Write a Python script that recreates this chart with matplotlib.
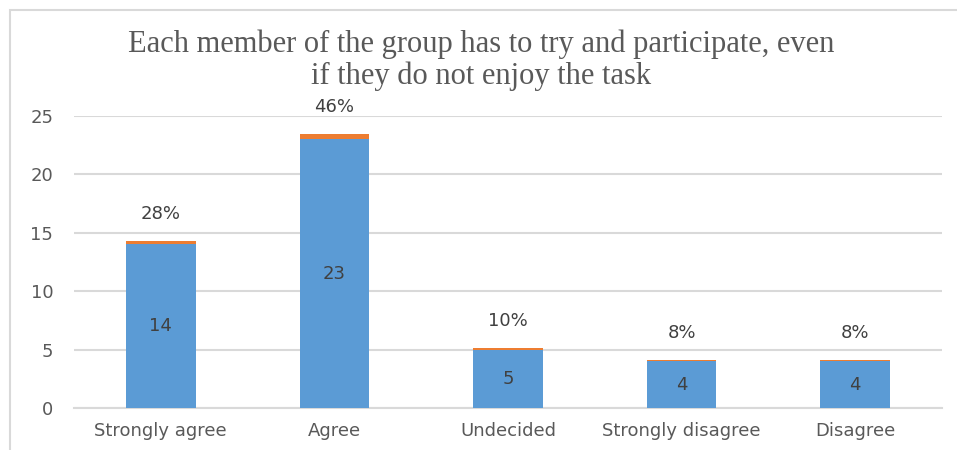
import matplotlib.pyplot as plt
from matplotlib.patches import Rectangle

# Survey answers
categories = ["Strongly agree", "Agree", "Undecided", "Strongly disagree", "Disagree"]
counts = [14, 23, 5, 4, 4]
shares = [0.28, 0.46, 0.10, 0.08, 0.08]
share_labels = ["28%", "46%", "10%", "8%", "8%"]

title = "Each member of the group has to try and participate, even\nif they do not enjoy the task"

blue = "#5b9bd5"
orange = "#ed7d31"
grey_text = "#595959"
grid_col = "#d9d9d9"

fig = plt.figure(figsize=(9.57, 4.5), dpi=100)
ax = fig.add_axes([74 / 957, 1 - 408 / 450, (942 - 74) / 957, (408 - 116) / 450])

# outer chart border
fig.patches.append(
    Rectangle((10 / 957, -0.1), 1.2, 1.1 - 10 / 450, transform=fig.transFigure,
              fill=False, edgecolor="#d9d9d9", linewidth=1.5)
)

x = list(range(len(categories)))
bars = ax.bar(x, counts, width=0.4, color=blue, zorder=3)
top = ax.bar(x, shares, width=0.4, bottom=counts, color=orange, zorder=3)

for b, c in zip(bars, counts):
    ax.text(b.get_x() + b.get_width() / 2, c / 2, str(c), ha="center", va="center",
            fontsize=13, color="#404040", zorder=4)

for b, c, s, lab in zip(top, counts, shares, share_labels):
    ax.annotate(lab, (b.get_x() + b.get_width() / 2, c + s), xytext=(0, 13),
                textcoords="offset points", ha="center", va="bottom",
                fontsize=13, color="#404040")

ax.set_xlim(-0.5, len(categories) - 0.5)
ax.set_ylim(0, 25)
ax.set_yticks([0, 5, 10, 15, 20, 25])
ax.set_xticks(x)
ax.set_xticklabels(categories)
ax.tick_params(axis="both", length=0, labelsize=13, colors=grey_text)
ax.tick_params(axis="y", pad=15)
ax.tick_params(axis="x", pad=10)
ax.yaxis.grid(True, color=grid_col, linewidth=1.5, zorder=0)
ax.set_axisbelow(True)
for side in ["top", "right", "left"]:
    ax.spines[side].set_visible(False)
ax.spines["bottom"].set_color(grid_col)
ax.spines["bottom"].set_linewidth(1.5)

fig.text(0.503, 1 - 60 / 450, title, ha="center", va="center", fontsize=22,
         family="Liberation Serif", color=grey_text, linespacing=1.1)

fig.savefig("out.png", dpi=100)
